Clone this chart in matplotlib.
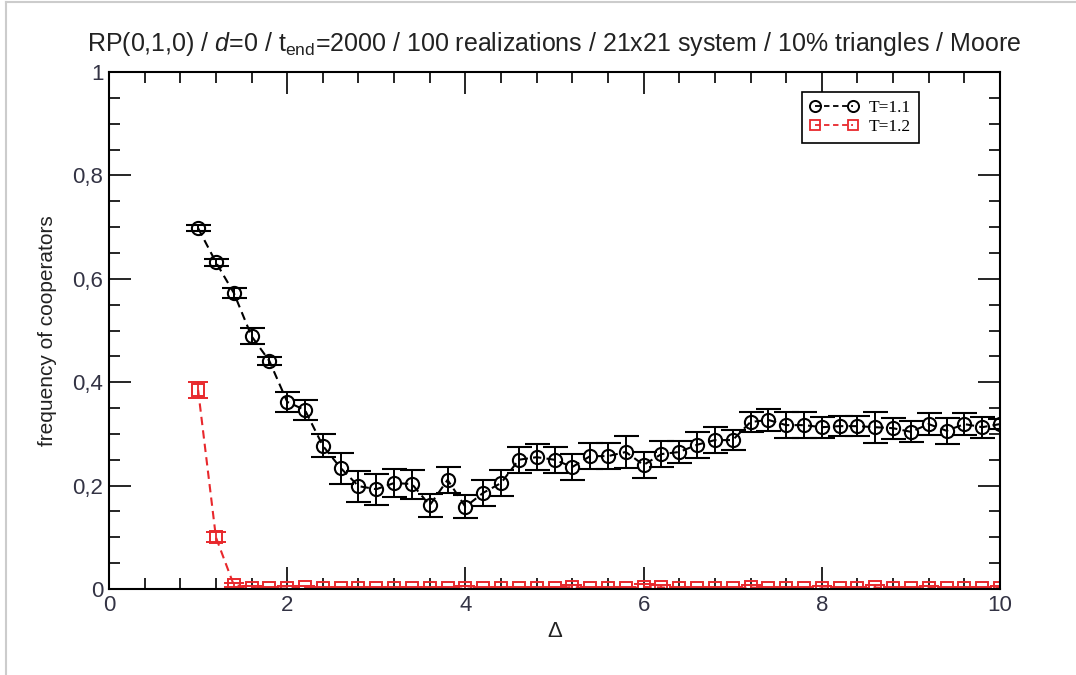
import numpy as np
import matplotlib
matplotlib.use("Agg")
import matplotlib.pyplot as plt
from matplotlib.ticker import MultipleLocator, FuncFormatter
from matplotlib.lines import Line2D

plt.rcParams['font.family'] = ['Liberation Sans', 'DejaVu Sans']
plt.rcParams['mathtext.fontset'] = 'custom'
plt.rcParams['mathtext.rm'] = 'Liberation Sans'
plt.rcParams['mathtext.it'] = 'Liberation Sans:italic'

delta = [round(1.0 + 0.2 * i, 1) for i in range(46)]

t11 = [0.698, 0.632, 0.573, 0.489, 0.441, 0.362, 0.346, 0.277, 0.234, 0.199,
       0.193, 0.205, 0.203, 0.162, 0.211, 0.159, 0.186, 0.205, 0.250, 0.255,
       0.250, 0.236, 0.257, 0.257, 0.265, 0.240, 0.261, 0.265, 0.279, 0.288,
       0.288, 0.323, 0.327, 0.317, 0.317, 0.313, 0.315, 0.315, 0.313, 0.311,
       0.304, 0.319, 0.306, 0.319, 0.313, 0.319]
t11_err = [0.006, 0.007, 0.01, 0.015, 0.008, 0.02, 0.02, 0.022, 0.03, 0.03,
           0.03, 0.028, 0.028, 0.022, 0.025, 0.022, 0.025, 0.025, 0.025, 0.025,
           0.025, 0.025, 0.025, 0.025, 0.03, 0.025, 0.025, 0.022, 0.025, 0.025,
           0.02, 0.02, 0.022, 0.025, 0.025, 0.02, 0.02, 0.02, 0.03, 0.02,
           0.02, 0.022, 0.025, 0.022, 0.02, 0.01]

t12 = [0.385, 0.100, 0.008, 0.002, 0.001, 0.001, 0.003, 0.001, 0.001, 0.001,
       0.001, 0.001, 0.001, 0.001, 0.001, 0.001, 0.001, 0.001, 0.001, 0.001,
       0.001, 0.004, 0.001, 0.001, 0.001, 0.004, 0.003, 0.001, 0.001, 0.001,
       0.001, 0.003, 0.001, 0.001, 0.001, 0.001, 0.001, 0.001, 0.003, 0.001,
       0.001, 0.002, 0.001, 0.001, 0.001, 0.002]
t12_err = [0.015, 0.01, 0.004, 0.004, 0.003, 0.004, 0.003, 0.003, 0.003, 0.003,
           0.003, 0.003, 0.003, 0.003, 0.003, 0.004, 0.003, 0.003, 0.003, 0.003,
           0.003, 0.004, 0.003, 0.003, 0.003, 0.005, 0.004, 0.003, 0.003, 0.003,
           0.003, 0.004, 0.003, 0.003, 0.003, 0.004, 0.003, 0.003, 0.004, 0.003,
           0.003, 0.004, 0.003, 0.003, 0.003, 0.003]

title = r"RP(0,1,0) / $\mathit{d}$=0 / t$_{\mathrm{end}}$=2000 / 100 realizations / 21x21 system / 10% triangles / Moore"

fig = plt.figure(figsize=(10.76, 6.75), dpi=100)
ax = fig.add_axes([109/1076, 1 - 589/675, (1000-109)/1076, (589-72)/675])

ax.errorbar(delta, t11, yerr=t11_err, fmt='o', mfc='none', mec='black', mew=1.5,
            ms=9.5, color='black', ecolor='black', elinewidth=1.4, capsize=9,
            capthick=1.4, linestyle=(0, (4, 2.5)), lw=1.5, label='T=1.1', zorder=3)
ax.errorbar(delta, t12, yerr=t12_err, fmt='s', mfc='none', mec='#e8282c', mew=1.4,
            ms=8, color='#e8282c', ecolor='#e8282c', elinewidth=1.3, capsize=7,
            capthick=1.3, linestyle=(0, (4, 2.5)), lw=1.5, label='T=1.2', zorder=2)

ax.set_xlim(0, 10)
ax.set_ylim(0, 1)
ax.xaxis.set_major_locator(MultipleLocator(2))
ax.xaxis.set_minor_locator(MultipleLocator(0.4))
ax.yaxis.set_major_locator(MultipleLocator(0.2))
ax.yaxis.set_minor_locator(MultipleLocator(0.05))

def yfmt(v, pos):
    if abs(v) < 1e-9:
        return "0"
    if abs(v - 1) < 1e-9:
        return "1"
    return ("%.1f" % v).replace('.', ',')

ax.yaxis.set_major_formatter(FuncFormatter(yfmt))
ax.xaxis.set_major_formatter(FuncFormatter(lambda v, p: "%d" % round(v)))
ax.tick_params(which='both', direction='in', top=True, right=True, width=1.2,
               colors='black', labelcolor='#333344', labelsize=16)
ax.tick_params(which='major', length=16, pad=4)
ax.tick_params(which='minor', length=8)
for s in ax.spines.values():
    s.set_linewidth(1.5)

ax.set_title(title, fontsize=18, color='#222222', pad=15)
ax.set_xlabel("Δ", fontsize=16, color='#222222', labelpad=4)
ax.set_ylabel("frequency of cooperators", fontsize=15, color='#222222', labelpad=11)

handles = [Line2D([], [], color='black', marker='o', mfc='none', mec='black', ms=8,
                  mew=1.4, linestyle=(0, (3, 2)), lw=1.3),
           Line2D([], [], color='#e8282c', marker='s', mfc='none', mec='#e8282c', ms=7,
                  mew=1.3, linestyle=(0, (3, 2)), lw=1.3)]
leg = ax.legend(handles, ['T=1.1', 'T=1.2'], loc='upper right',
                bbox_to_anchor=(919/1076, 1 - 92/675), bbox_transform=fig.transFigure,
                numpoints=2, fancybox=False, edgecolor='black', framealpha=1,
                prop={'family': 'Liberation Serif', 'size': 12.5}, handlelength=2.8,
                borderpad=0.45, labelspacing=0.15, handletextpad=0.6,
                borderaxespad=0)
leg.get_frame().set_linewidth(1.2)

# light gray frame of the screenshot
fig.add_artist(Line2D([6/1076, 1], [1 - 2/675, 1 - 2/675], transform=fig.transFigure,
                      color='#cccccc', lw=1.5))
fig.add_artist(Line2D([6/1076, 6/1076], [0, 1 - 2/675], transform=fig.transFigure,
                      color='#cccccc', lw=1.5))

fig.savefig("out.png", dpi=100)
